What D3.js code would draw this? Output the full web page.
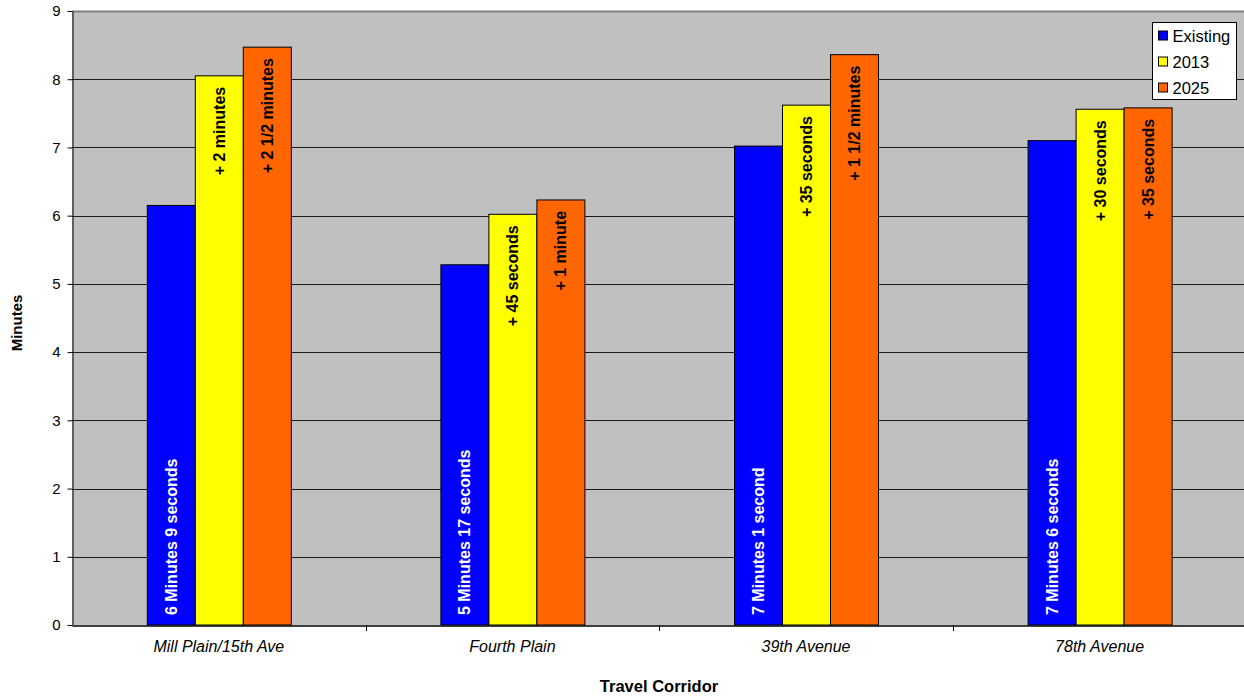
<!DOCTYPE html>
<html>
<head>
<meta charset="utf-8">
<script src="https://cdn.jsdelivr.net/npm/d3@7"></script>
<style>
  html, body { margin: 0; padding: 0; background: #fff; }
  svg { display: block; font-family: "Liberation Sans", Arial, sans-serif; }
</style>
</head>
<body>
<svg id="chart" width="1244" height="698"></svg>
<script>
// Travel time per corridor, in minutes
const corridors = ["Mill Plain/15th Ave", "Fourth Plain", "39th Avenue", "78th Avenue"];
const seriesNames = ["Existing", "2013", "2025"];
const existing = [6.15, 5.28, 7.02, 7.10];
const year2013 = [8.05, 6.02, 7.62, 7.56];
const year2025 = [8.47, 6.23, 8.36, 7.58];
const existingLabels = ["6 Minutes 9 seconds", "5 Minutes 17 seconds", "7 Minutes 1 second", "7 Minutes 6 seconds"];
const labels2013 = ["+ 2 minutes", "+ 45 seconds", "+ 35 seconds", "+ 30 seconds"];
const labels2025 = ["+ 2 1/2 minutes", "+ 1 minute", "+ 1 1/2 minutes", "+ 35 seconds"];
const yTicks = [0, 1, 2, 3, 4, 5, 6, 7, 8, 9];
const colors = ["#0000ff", "#ffff00", "#ff6600"];

const svg = d3.select("#chart");
const plot = { left: 72, top: 11, right: 1246.4, bottom: 625 };

const y = d3.scaleLinear().domain([0, 9]).range([plot.bottom, plot.top]);
const x0 = d3.scaleBand().domain(corridors).range([plot.left, plot.right]).padding(0);
const groupW = 144;
const x1 = d3.scaleBand().domain(seriesNames)
  .range([(x0.bandwidth() - groupW) / 2, (x0.bandwidth() + groupW) / 2]).padding(0);

// plot background
svg.append("rect")
  .attr("x", plot.left).attr("y", plot.top)
  .attr("width", plot.right - plot.left).attr("height", plot.bottom - plot.top)
  .attr("fill", "#c0c0c0");

// horizontal gridlines
svg.append("g").selectAll("line")
  .data(yTicks.filter(d => d > 0))
  .join("line")
  .attr("x1", plot.left).attr("x2", plot.right)
  .attr("y1", d => Math.round(y(d)) + 0.5).attr("y2", d => Math.round(y(d)) + 0.5)
  .attr("stroke", d => d === 9 ? "#808080" : "#1a1a1a")
  .attr("stroke-width", d => d === 9 ? 2 : 1);

// bars
const rows = corridors.map((c, i) => ({
  corridor: c,
  values: [
    { s: seriesNames[0], v: existing[i], label: existingLabels[i] },
    { s: seriesNames[1], v: year2013[i], label: labels2013[i] },
    { s: seriesNames[2], v: year2025[i], label: labels2025[i] }
  ]
}));

const groups = svg.append("g").selectAll("g")
  .data(rows).join("g")
  .attr("transform", d => `translate(${x0(d.corridor)},0)`);

groups.selectAll("rect")
  .data(d => d.values).join("rect")
  .attr("x", d => x1(d.s) + 0.5)
  .attr("y", d => y(d.v))
  .attr("width", x1.bandwidth())
  .attr("height", d => y(0) - y(d.v))
  .attr("fill", (d, i) => colors[i])
  .attr("stroke", "#000")
  .attr("stroke-width", 1);

// rotated value labels
groups.selectAll("text")
  .data(d => d.values).join("text")
  .attr("transform", (d, i) => {
    const cx = x1(d.s) + x1.bandwidth() / 2 + 6;
    const cy = i === 0 ? y(0) - 10 : y(d.v) + 11;
    return `translate(${cx},${cy}) rotate(-90)`;
  })
  .attr("text-anchor", (d, i) => i === 0 ? "start" : "end")
  .attr("font-size", 16)
  .attr("font-weight", "bold")
  .attr("fill", (d, i) => i === 0 ? "#fff" : "#000")
  .text(d => d.label);

// y axis
const yAxis = svg.append("g")
  .attr("transform", `translate(${plot.left + 0.5},0)`)
  .call(d3.axisLeft(y).tickValues(yTicks).tickSize(5).tickPadding(7).tickSizeOuter(0));
yAxis.select(".domain").attr("stroke", "#000");
yAxis.selectAll(".tick line").attr("stroke", "#000");
yAxis.selectAll("text").attr("font-size", 15).attr("fill", "#000")
  .attr("font-family", "'Liberation Sans', Arial, sans-serif");

// x axis
const xAxis = svg.append("g")
  .attr("transform", `translate(0,${plot.bottom + 0.5})`)
  .call(d3.axisBottom(x0).tickSize(0).tickPadding(15));
xAxis.select(".domain").attr("stroke", "#000").attr("stroke-width", 1.5);
xAxis.selectAll("text").attr("font-size", 16).attr("font-style", "italic").attr("fill", "#000")
  .attr("font-family", "'Liberation Sans', Arial, sans-serif");

// category separators below the axis
svg.append("g").selectAll("line")
  .data(corridors.slice(1))
  .join("line")
  .attr("x1", d => Math.round(x0(d)) + 0.5).attr("x2", d => Math.round(x0(d)) + 0.5)
  .attr("y1", plot.bottom).attr("y2", plot.bottom + 6)
  .attr("stroke", "#000");

// axis titles
svg.append("text")
  .attr("transform", `translate(22,${(plot.top + plot.bottom) / 2 + 5}) rotate(-90)`)
  .attr("text-anchor", "middle")
  .attr("font-size", 15).attr("font-weight", "bold")
  .text("Minutes");

svg.append("text")
  .attr("x", 659).attr("y", 692)
  .attr("text-anchor", "middle")
  .attr("font-size", 16.5).attr("font-weight", "bold")
  .text("Travel Corridor");

// legend
const legend = svg.append("g").attr("transform", "translate(1152.5,22.5)");
legend.append("rect")
  .attr("width", 84).attr("height", 77)
  .attr("fill", "#fff").attr("stroke", "#000");
const items = legend.selectAll("g.item")
  .data(seriesNames).join("g")
  .attr("class", "item")
  .attr("transform", (d, i) => `translate(6,${13 + i * 26})`);
items.append("rect")
  .attr("x", 0).attr("y", -4.5).attr("width", 9).attr("height", 9)
  .attr("fill", (d, i) => colors[i]).attr("stroke", "#000");
items.append("text")
  .attr("x", 14).attr("y", 6)
  .attr("font-size", 16.5)
  .text(d => d);
</script>
</body>
</html>
